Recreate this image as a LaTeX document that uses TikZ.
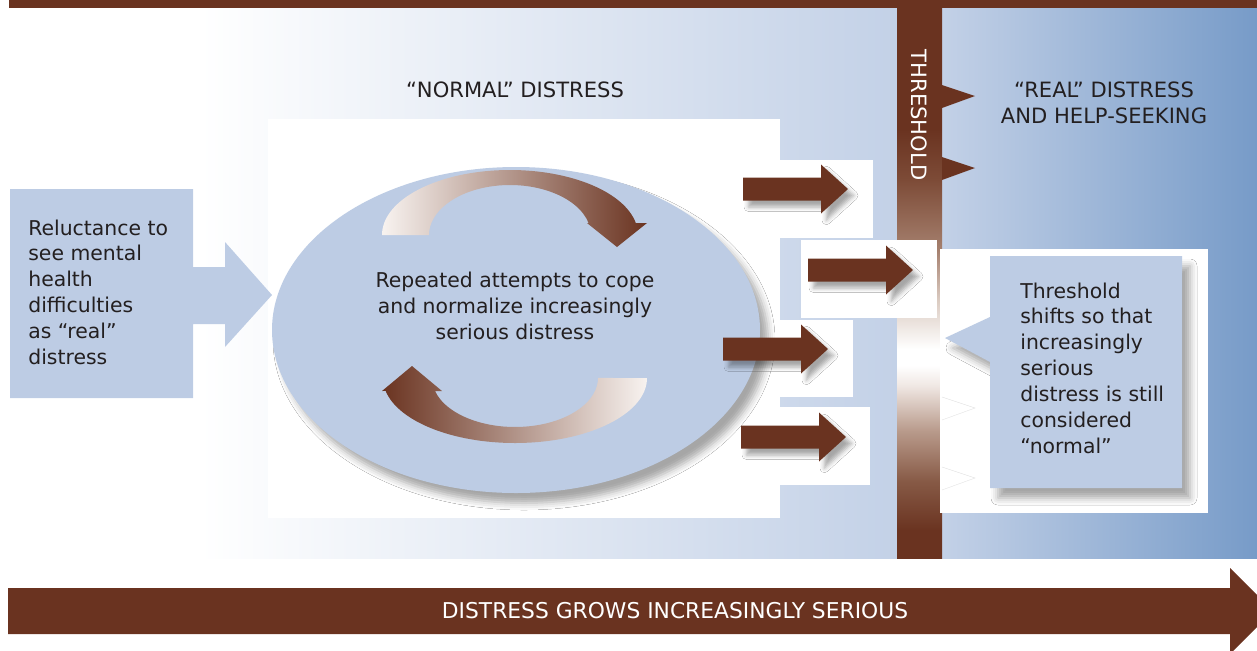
\documentclass[tikz,border=0pt]{standalone}
\usepackage{fontspec}
\setmainfont{DejaVu Sans}
\usetikzlibrary{shadows.blur}

\definecolor{brownc}{HTML}{6A3320}
\definecolor{paleblue}{HTML}{BDCCE4}
\definecolor{bgblue}{HTML}{C3D1E7}
\definecolor{deepblue}{HTML}{779BC8}
\definecolor{txtgray}{HTML}{231F20}
\definecolor{arclight}{HTML}{F8F3F0}
\definecolor{thrA}{RGB}{125,75,55}
\definecolor{thrB}{RGB}{165,128,110}
\definecolor{thrC}{RGB}{218,202,192}
\definecolor{thrD}{RGB}{240,232,228}
\definecolor{thrE}{RGB}{185,155,140}
\definecolor{thrF}{RGB}{135,90,70}

% bar of the threshold: dark - light - white - dark (top is at 75bp)
\pgfdeclareverticalshading{threshbar}{100bp}{%
  color(0bp)=(brownc); color(27.5bp)=(brownc); color(32bp)=(thrF);
  color(36.6bp)=(thrE); color(40.7bp)=(thrD); color(42.5bp)=(white);
  color(44bp)=(white); color(48.5bp)=(thrC); color(53bp)=(thrB);
  color(59.4bp)=(thrA); color(64bp)=(brownc); color(100bp)=(brownc)}

\begin{document}
\begin{tikzpicture}[x=0.2mm, y=-0.2mm,
    ptext/.style={text=txtgray, inner sep=0pt, font=\fontsize{11.6}{14.7}\selectfont},
    captext/.style={inner sep=0pt, font=\fontsize{12}{14.7}\selectfont},
    panel/.style={fill=white},
    brownarrow/.style={fill=brownc, blur shadow={shadow xshift=1.1mm, shadow yshift=-1.3mm,
        shadow blur radius=0.9mm, shadow opacity=35}},
    softshadow/.style={blur shadow={shadow xshift=1.6mm, shadow yshift=-2mm,
        shadow blur radius=1.4mm, shadow opacity=35}}]
    \clip (0,0) rectangle (1257,650);

    % 1. Background bands
    \fill[brownc] (9,0) rectangle (1257,8);
    \shade[left color=white, right color=bgblue] (200,8) rectangle (897,558);
    \shade[left color=bgblue, right color=deepblue] (942,8) rectangle (1257,558);

    % 2. Threshold bar and its teeth
    \shade[shading=threshbar] (897,8) rectangle (942,558);
    \fill[brownc] (942,85) -- (975,96) -- (942,108) -- cycle;
    \fill[brownc] (942,157) -- (975,168) -- (942,180) -- cycle;
    \node[captext, text=white, rotate=-90] (thresh) at (919,115) {THRESHOLD};

    % 3. White panels
    \fill[panel] (268,119) rectangle (780,518);
    \fill[panel] (780,160) rectangle (873,238);
    \fill[panel] (801,240) rectangle (937,318);
    \fill[panel] (717,320) rectangle (853,397);
    \fill[panel] (780,407) rectangle (870,485);
    \fill[panel] (940,249) rectangle (1208,513);
    \draw[black!12, very thin] (942,397) -- (975,408) -- (942,420);
    \draw[black!12, very thin] (942,467) -- (975,478) -- (942,490);

    % 4. Coping cycle
    \fill[paleblue, softshadow] (516,330) ellipse [x radius=244, y radius=163];
    \shade[left color=arclight, right color=brownc]
        (382,235) arc[start angle=180, end angle=349.4, x radius=128, y radius=65]
        -- (647,223) -- (617,247) -- (587,223) -- (588.6,223)
        arc[start angle=346.1, end angle=180, x radius=81, y radius=50] -- cycle;
    \shade[left color=brownc, right color=arclight]
        (647,378) arc[start angle=0, end angle=168.5, x radius=132, y radius=65]
        -- (382,391) -- (412,366) -- (442,391) -- (435,391)
        arc[start angle=164.6, end angle=0, x radius=83, y radius=49] -- cycle;
    \node[ptext, align=center] (cope) at (515,306)
        {Repeated attempts to cope\\and normalize increasingly\\serious distress};

    % 5. Arrows towards the threshold
    \foreach \ax/\ay in {743/189, 808/270, 723/349, 741/437}
        \fill[brownarrow] (\ax,{\ay-11.5}) -- ++(78,0) -- ++(0,-13) -- ({\ax+105},\ay)
            -- ({\ax+78},{\ay+24.5}) -- ++(0,-13) -- (\ax,{\ay+11.5}) -- cycle;

    % 6. Reluctance box
    \fill[paleblue] (10,189) -- (193,189) -- (193,267) -- (225,267) -- (225,242)
        -- (272,295) -- (225,347) -- (225,324) -- (193,324) -- (193,398)
        -- (10,398) -- cycle;
    \node[ptext, align=left, anchor=west] (reluct) at (28,292)
        {Reluctance to\\see mental\\health\\difficulties\\as “real”\\distress};

    % 7. Callout on the shifting threshold
    \fill[paleblue, softshadow] (990,256) -- (1182,256) -- (1182,488) -- (990,488)
        -- (990,362) -- (945,338) -- (990,317) -- cycle;
    \node[ptext, align=left, anchor=west] (shift) at (1020,368)
        {Threshold\\shifts so that\\increasingly\\serious\\distress is still\\considered\\“normal”};

    % 8. Headings
    \node[captext, text=txtgray] (normal) at (515,90) {“NORMAL” DISTRESS};
    \node[captext, text=txtgray, align=center] (real) at (1104,103)
        {“REAL” DISTRESS\\AND HELP-SEEKING};

    % 9. Bottom arrow
    \fill[brownc] (8,588) -- (1230,588) -- (1230,568) -- (1273,611) -- (1230,654)
        -- (1230,634) -- (8,634) -- cycle;
    \node[inner sep=0pt, text=white, font=\fontsize{12.4}{14}\selectfont] (grows)
        at (675,611) {DISTRESS GROWS INCREASINGLY SERIOUS};
\end{tikzpicture}
\end{document}
